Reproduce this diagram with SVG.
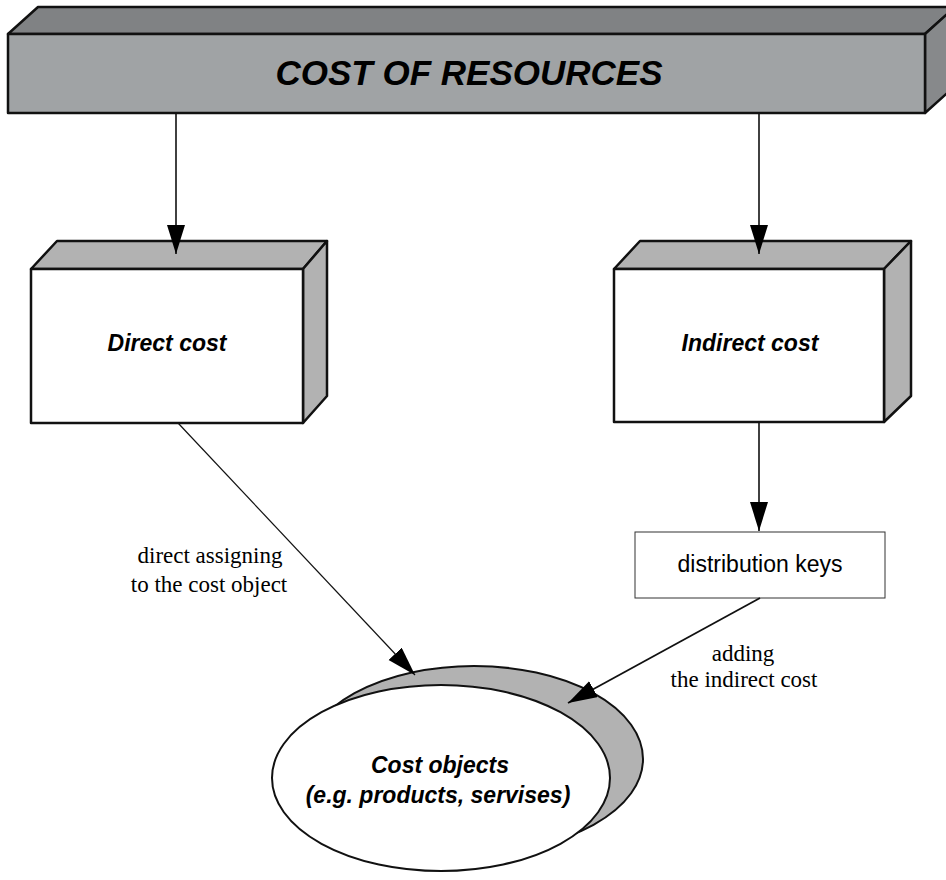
<svg xmlns="http://www.w3.org/2000/svg" width="946" height="880" viewBox="0 0 946 880">
  <style>
    .edge { stroke: #111; fill: none; }
    .solid { stroke: #111; stroke-width: 2.5; stroke-linejoin: round; }
    .title { font-family: "Liberation Sans", Arial, sans-serif; font-weight: bold; font-style: italic; font-size: 35px; fill: #000; text-anchor: middle; }
    .head { font-family: "Liberation Sans", Arial, sans-serif; font-weight: bold; font-style: italic; font-size: 23px; fill: #000; text-anchor: middle; }
    .plain { font-family: "Liberation Sans", Arial, sans-serif; font-size: 23px; fill: #000; text-anchor: middle; }
    .note { font-family: "Liberation Serif", "Times New Roman", serif; font-size: 23px; fill: #000; text-anchor: middle; }
  </style>
  <defs>
    <marker id="arrow" markerUnits="userSpaceOnUse" markerWidth="30" markerHeight="20" refX="29" refY="9" orient="auto">
      <path d="M0,0 L29,9 L0,18 z" fill="#000"/>
    </marker>
  </defs>

  <rect width="946" height="880" fill="#fff"/>

  <!-- bar across the top -->
  <g id="cost-of-resources">
    <polygon class="solid" points="8,34 38,7 955,7 925,34" fill="#808284"/>
    <polygon class="solid" points="925,34 955,7 955,86 925,113" fill="#87898b"/>
    <rect class="solid" x="8" y="34" width="917" height="79" fill="#a0a3a5"/>
    <text class="title" x="469" y="85">COST OF RESOURCES</text>
  </g>

  <g id="direct-cost">
    <polygon class="solid" points="31,269 57,241 327,241 303,269" fill="#b2b2b2"/>
    <polygon class="solid" points="303,269 327,241 327,396 303,423" fill="#b2b2b2"/>
    <rect class="solid" x="31" y="269" width="272" height="154" fill="#fff"/>
    <text class="head" x="167" y="351">Direct cost</text>
  </g>

  <g id="indirect-cost">
    <polygon class="solid" points="614,269 640,241 911,241 884,269" fill="#b2b2b2"/>
    <polygon class="solid" points="884,269 911,241 911,396 884,422" fill="#b2b2b2"/>
    <rect class="solid" x="614" y="269" width="270" height="153" fill="#fff"/>
    <text class="head" x="750" y="351">Indirect cost</text>
  </g>

  <g id="distribution-keys">
    <rect x="635" y="532" width="250" height="66" fill="#fff" stroke="#333" stroke-width="1"/>
    <text class="plain" x="760" y="572">distribution keys</text>
  </g>

  <g id="cost-objects">
    <ellipse cx="474" cy="759" rx="169" ry="93" fill="#b2b2b2" stroke="#111" stroke-width="2"/>
    <ellipse cx="441" cy="778" rx="169" ry="93" fill="#fff" stroke="#111" stroke-width="2"/>
    <text class="head" x="440" y="773">Cost objects</text>
    <text class="head" x="438" y="803">(e.g. products, servises)</text>
  </g>

  <g id="connectors">
    <line class="edge" x1="176" y1="113" x2="176" y2="254" stroke-width="1.6" marker-end="url(#arrow)"/>
    <line class="edge" x1="759" y1="113" x2="759" y2="254" stroke-width="1.6" marker-end="url(#arrow)"/>
    <line class="edge" x1="759" y1="422" x2="759" y2="531" stroke-width="1.6" marker-end="url(#arrow)"/>
    <line class="edge" x1="178" y1="423" x2="415" y2="675" stroke-width="1.2" marker-end="url(#arrow)"/>
    <line class="edge" x1="760" y1="598" x2="568" y2="703" stroke-width="1.8" marker-end="url(#arrow)"/>
  </g>

  <g id="labels">
    <text class="note" x="210" y="563">direct assigning</text>
    <text class="note" x="209" y="592">to the cost object</text>
    <text class="note" x="743" y="661">adding</text>
    <text class="note" x="744" y="687">the indirect cost</text>
  </g>
</svg>
